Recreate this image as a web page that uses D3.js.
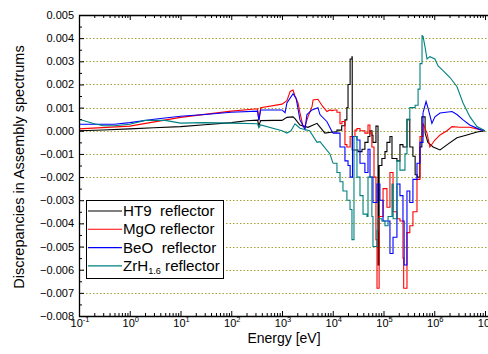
<!DOCTYPE html>
<html>
<head>
<meta charset="utf-8">
<script src="https://cdn.jsdelivr.net/npm/d3@7"></script>
<style>
  body { margin: 0; background: #fff; }
  text { font-family: "Liberation Sans", Arial, sans-serif; }
</style>
</head>
<body>
<svg id="chart" width="488" height="354"></svg>
<script>
// energy [eV], discrepancy
const ht9 = [
  [0.1, 0.0], [0.3, 0.00003], [1, 0.00008], [3, 0.00013], [10, 0.00018], [30, 0.00026],
  [100, 0.00035], [200, 0.00043], [330, 0.00046], [350, 0.00022], [380, 0.00044], [700, 0.00045],
  [1000, 0.00045], [1250, 0.00058], [1650, 0.0006], [1800, 0.00052], [2260, 0.00025], [3250, 0.00015],
  [4900, 0.00032], [7000, -0.0001], [1.0e4, -0.00005], [1.21e4, 0.00003], [1.5e4, 0.00022],
  [1.74e4, 0.00047], [1.9e4, 0.001], [2.0e4, 0.002], [2.2e4, 0.0031], [2.39e4, 0.0032], [2.42e4, -0.00083],
  [3.15e4, -0.0009], [3.77e4, -0.0008], [4.3e4, -0.0005], [4.95e4, -0.00025], [5.4e4, 0.0],
  [5.93e4, -0.0002], [6.2e4, -0.0005], [7.1e4, 0.0002], [7.45e4, 0.0002], [7.8e4, -0.0058],
  [8.2e4, -0.0015], [8.5e4, -0.0015], [9.3e4, -0.0012], [1.07e5, -0.0009], [1.17e5, -0.0005],
  [1.34e5, -0.00025], [1.47e5, -0.0012], [1.84e5, -0.0013], [2.11e5, -0.0006], [2.42e5, -0.0007],
  [2.9e5, 0.0005], [3.3e5, -0.0007], [3.8e5, -0.0011], [4.2e5, -0.0019], [4.6e5, -0.002],
  [5.2e5, -0.0007], [5.7e5, 0.0006], [6.6e5, -0.0001], [7.5e5, -0.0005], [9.5e5, -0.0007],
  [1.3e6, -0.00083], [1.8e6, -0.0006], [2.8e6, -0.0003], [4.4e6, -0.00018], [7e6, -0.00005], [1e7, 0.0]
];

const mgo = [
  [0.1, 0.00008], [1, 0.0002], [10, 0.00058], [100, 0.00085], [330, 0.00095], [350, 0.00045],
  [380, 0.001], [1000, 0.00115], [1250, 0.0013], [1450, 0.0017], [1650, 0.00176], [1800, 0.0015],
  [2070, 0.0012], [2260, 0.00077], [2600, 0.00018], [2840, 0.0002], [3250, 0.0006], [3900, 0.00104],
  [4100, 0.00133], [5100, 0.00136], [6400, 0.00104], [7700, 0.00083], [8800, 0.0009], [9660, 0.00087],
  [1.1e4, 0.0009], [1.21e4, 0.0008], [1.39e4, 0.0003], [1.52e4, 0.0004], [1.74e4, -0.0006],
  [1.9e4, -0.0007], [2.2e4, -0.00025], [2.74e4, 0.00003], [3.0e4, 0.0001], [3.44e4, 0.0],
  [4.3e4, -0.0001], [4.95e4, 0.00025], [5.4e4, -0.0001], [5.9e4, -0.0007], [6.5e4, -0.002],
  [7.1e4, -0.0047], [7.45e4, -0.0068], [7.8e4, -0.0068], [8.2e4, -0.0037], [8.5e4, -0.0037],
  [9.8e4, -0.0025], [1.17e5, -0.0033], [1.34e5, -0.0018], [1.54e5, -0.0035], [1.84e5, -0.0038],
  [2.11e5, -0.0039], [2.42e5, -0.0055], [2.5e5, -0.0068], [2.6e5, -0.0068], [2.9e5, -0.0044],
  [3.3e5, -0.0041], [3.8e5, -0.0035], [4.57e5, -0.0021], [5.24e5, -0.00025], [6.0e5, 0.00032],
  [7.2e5, -0.0001], [8.2e5, -0.0007], [1.03e6, -0.0004], [1.3e6, -0.00018], [1.78e6, 0.0],
  [2.24e6, 0.00018], [3.2e6, 0.00015], [5e6, 0.00015], [8e6, 0.00005], [1e7, 0.0]
];

const beo = [
  [0.1, 0.00028], [0.5, 0.00028], [1, 0.00035], [3, 0.0005], [10, 0.00063], [30, 0.0007],
  [100, 0.0008], [330, 0.00085], [350, 0.00045], [380, 0.0009], [1000, 0.0009], [1150, 0.00078],
  [1250, 0.0012], [1650, 0.0016], [1900, 0.0014], [2260, 0.00047], [2840, 0.00006], [3100, 0.0007],
  [3900, 0.0009], [5100, 0.001], [5600, 0.0007], [7700, 0.00039], [1.0e4, -0.0001], [1.39e4, -0.0007],
  [1.74e4, -0.0013], [2.0e4, -0.0015], [2.2e4, -0.002], [2.45e4, -0.00025], [3.0e4, -0.0004],
  [3.44e4, -0.0014], [4.3e4, -0.0018], [4.95e4, -0.0008], [5.42e4, -0.002], [6.2e4, -0.0031],
  [7.45e4, -0.0023], [8.5e4, -0.003], [9.8e4, -0.0039], [1.17e5, -0.0039], [1.34e5, -0.0053],
  [1.54e5, -0.0046], [1.84e5, -0.0023], [2.11e5, -0.0028], [2.42e5, -0.0039], [2.55e5, -0.0058],
  [2.9e5, -0.0026], [3.3e5, -0.0031], [3.8e5, -0.0021], [4.57e5, -0.0014], [5.24e5, -0.0005],
  [6.0e5, 0.00077], [6.9e5, 0.00126], [7.5e5, 0.001], [9.0e5, 0.00032], [1.03e6, 0.0006],
  [1.3e6, 0.00077], [2.24e6, 0.00083], [2.8e6, 0.0007], [3.7e6, 0.00047], [5e6, 0.00025],
  [8e6, 0.00005], [1e7, 0.0]
];

const zrh = [
  [0.1, 0.0005], [0.2, 0.0003], [0.3, 0.00022], [0.5, 0.00022], [1, 0.00028], [2, 0.00045],
  [5, 0.00045], [10, 0.00033], [30, 0.00035], [100, 0.00033], [330, 0.0003], [350, 0.00013],
  [380, 0.00025], [1000, 0.0], [1250, -0.0001], [1500, 0.0], [1800, 0.0003], [2260, 0.00011],
  [3500, 0.0], [4900, -0.0005], [5600, -0.00047], [8800, -0.001], [1.01e4, -0.0014], [1.21e4, -0.0018],
  [1.39e4, -0.0022], [1.59e4, -0.0026], [1.9e4, -0.003], [2.19e4, -0.0034], [2.39e4, -0.0047],
  [2.62e4, -0.00025], [3.0e4, -0.002], [3.44e4, -0.0028], [3.95e4, -0.0036], [4.73e4, -0.0037],
  [4.95e4, -0.002], [5.9e4, -0.0037], [6.2e4, -0.005], [7.45e4, -0.0043], [7.8e4, -0.0038],
  [9.3e4, -0.0039], [1.07e5, -0.0041], [1.23e5, -0.0037], [1.47e5, -0.0023], [1.55e5, -0.0038],
  [1.84e5, -0.0013], [2.11e5, -0.0017], [2.65e5, -0.001], [2.9e5, 0.00047], [3.3e5, 0.001],
  [4.2e5, 0.0011], [4.8e5, 0.0018], [5.24e5, 0.0029], [5.74e5, 0.0041], [6.0e5, 0.0041],
  [6.6e5, 0.0036], [7.2e5, 0.0031], [8.2e5, 0.0032], [1.03e6, 0.0031], [1.19e6, 0.0028],
  [1.49e6, 0.0026], [2.04e6, 0.0023], [2.81e6, 0.0019], [3.69e6, 0.0012], [5.06e6, 0.0006],
  [6.95e6, 0.00018], [1e7, 0.0]
];

const seriesData = [ht9, mgo, beo, zrh];
const seriesColors = ["#000000", "#ff0000", "#0000ff", "#008080"];
const legendLabels = ["HT9  reflector", "MgO reflector", "BeO  reflector", "ZrH"];

const yTickValues = [-0.008, -0.007, -0.006, -0.005, -0.004, -0.003, -0.002, -0.001,
  0, 0.001, 0.002, 0.003, 0.004, 0.005];
const xTickExponents = [-1, 0, 1, 2, 3, 4, 5, 6, 7];

// energy band where the spectra are drawn as group steps
const stepFrom = 1.0e4, stepTo = 6.0e5;

const plotLeft = 79, plotRight = 485, plotTop = 15, plotBottom = 316;

const svg = d3.select("#chart");
svg.append("rect").attr("width", 488).attr("height", 354).attr("fill", "#fff");

const x = d3.scaleLog().domain([0.1, 1e7]).range([plotLeft, plotRight]);
const y = d3.scaleLinear().domain([-0.008, 0.005]).range([plotBottom, plotTop]);

// dotted grid
svg.append("g")
  .selectAll("line")
  .data(yTickValues.filter(d => d > -0.008 && d < 0.005))
  .join("line")
  .attr("x1", plotLeft).attr("x2", 488)
  .attr("y1", d => Math.round(y(d)) + 0.5).attr("y2", d => Math.round(y(d)) + 0.5)
  .attr("stroke", "#a3a334")
  .attr("stroke-width", 1)
  .attr("stroke-dasharray", "1.5,2");

// curves
svg.append("clipPath").attr("id", "clip")
  .append("rect").attr("x", plotLeft).attr("y", plotTop)
  .attr("width", 488 - plotLeft).attr("height", plotBottom - plotTop);

const smooth = d3.line().x(d => x(d[0])).y(d => y(d[1]));
const steps = d3.line().x(d => x(d[0])).y(d => y(d[1])).curve(d3.curveStepAfter);

function pieces(d) {
  const a = d.findIndex(p => p[0] >= stepFrom);
  const b = d.findIndex(p => p[0] >= stepTo);
  return smooth(d.slice(0, a + 1)) + steps(d.slice(a, b + 1)) + smooth(d.slice(b));
}

svg.append("g").attr("clip-path", "url(#clip)")
  .selectAll("path")
  .data(seriesData)
  .join("path")
  .attr("d", pieces)
  .attr("fill", "none")
  .attr("stroke", (d, i) => seriesColors[i])
  .attr("stroke-width", 1.1)
  .attr("stroke-linejoin", "miter");

// axes (ticks inside)
const majorX = xTickExponents.map(k => Math.pow(10, k));
const minorX = [];
xTickExponents.slice(0, -1).forEach(k => {
  for (let m = 2; m < 10; m++) minorX.push(m * Math.pow(10, k));
});
const minorY = yTickValues.slice(0, -1).map(d => d + 0.0005);

function noLabels(g) { g.selectAll("text").remove(); g.select(".domain").remove(); }

svg.append("g").attr("transform", `translate(0,${plotBottom})`)
  .call(d3.axisBottom(x).tickValues(majorX).tickSizeInner(-5).tickSizeOuter(0)).call(noLabels);
svg.append("g").attr("transform", `translate(0,${plotBottom})`)
  .call(d3.axisBottom(x).tickValues(minorX).tickSizeInner(-3).tickSizeOuter(0)).call(noLabels);
svg.append("g").attr("transform", `translate(0,${plotTop})`)
  .call(d3.axisTop(x).tickValues(majorX).tickSizeInner(-5).tickSizeOuter(0)).call(noLabels);
svg.append("g").attr("transform", `translate(0,${plotTop})`)
  .call(d3.axisTop(x).tickValues(minorX).tickSizeInner(-3).tickSizeOuter(0)).call(noLabels);

const yAxis = svg.append("g").attr("transform", `translate(${plotLeft},0)`)
  .call(d3.axisLeft(y).tickValues(yTickValues).tickSizeInner(-5).tickSizeOuter(0)
    .tickPadding(5).tickFormat(d3.format(".3f")));
yAxis.select(".domain").remove();
yAxis.selectAll("text").attr("font-size", 11).attr("fill", "#000")
  .style("font-family", "'Liberation Sans', Arial, sans-serif");
svg.append("g").attr("transform", `translate(${plotLeft},0)`)
  .call(d3.axisLeft(y).tickValues(minorY).tickSizeInner(-3).tickSizeOuter(0)).call(noLabels);

svg.selectAll(".tick line").attr("stroke", "#000");

// frame
svg.append("path")
  .attr("d", `M488,${plotTop + 0.5}H${plotLeft + 0.5}V${plotBottom + 0.5}H488`)
  .attr("fill", "none").attr("stroke", "#000").attr("stroke-width", 1.3);

// x tick labels 10^k
const xl = svg.append("g").selectAll("text").data(xTickExponents).join("text")
  .attr("x", k => x(Math.pow(10, k)) + 1)
  .attr("y", plotBottom + 11)
  .attr("text-anchor", "middle")
  .attr("font-size", 11);
xl.append("tspan").text("10");
xl.append("tspan").attr("dy", -5).attr("font-size", 7.5).text(k => k);

// axis titles
svg.append("text").attr("x", 284).attr("y", 343).attr("text-anchor", "middle")
  .attr("font-size", 14).text("Energy [eV]");
svg.append("text").attr("transform", "translate(24,167) rotate(-90)")
  .attr("text-anchor", "middle").attr("font-size", 14.5)
  .text("Discrepancies in Assembly spectrums");

// legend
const lg = svg.append("g");
lg.append("rect").attr("x", 86.5).attr("y", 200.5).attr("width", 137).attr("height", 78)
  .attr("fill", "#fff").attr("stroke", "#000").attr("stroke-width", 1);
const rows = lg.selectAll("g.row").data(legendLabels).join("g").attr("class", "row")
  .attr("transform", (d, i) => `translate(0,${211 + i * 18.3})`);
rows.append("line").attr("x1", 88).attr("x2", 122).attr("y1", 0).attr("y2", 0)
  .attr("stroke", (d, i) => seriesColors[i]).attr("stroke-width", 1.1);
const lt = rows.append("text")
  .attr("transform", "translate(123,5) scale(1.08,1)")
  .attr("font-size", 14)
  .attr("xml:space", "preserve");
lt.append("tspan").text(d => d);
lt.filter((d, i) => i === 3).append("tspan").attr("dy", 3).attr("font-size", 8.5).text("1.6");
lt.filter((d, i) => i === 3).append("tspan").attr("dy", -3).text(" reflector");
</script>
</body>
</html>
